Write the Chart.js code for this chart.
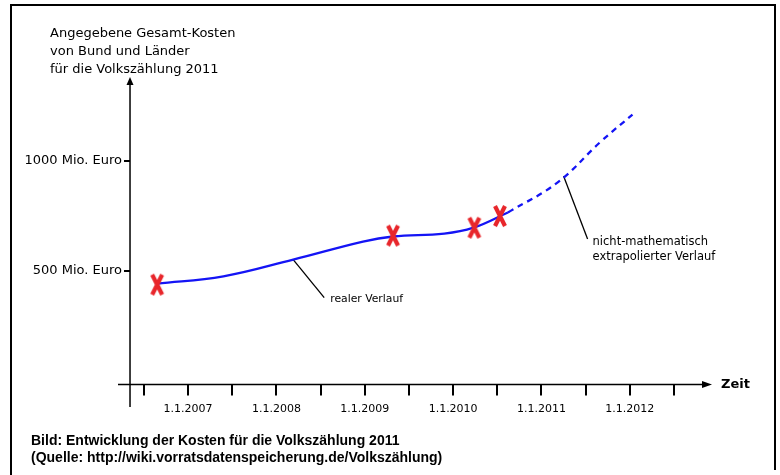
<!DOCTYPE html>
<html>
<head>
<meta charset="utf-8">
<script src="https://cdn.jsdelivr.net/npm/chart.js@4"></script>
<style>
  html, body { margin: 0; padding: 0; background: #fff; }
  canvas { display: block; }
</style>
</head>
<body>
<canvas id="myChart" width="780" height="475"></canvas>
<script>
// gemessene Werte (rote Kreuze)
var pointYears = [2006.65, 2009.32, 2010.24, 2010.53];
var pointCosts = [436, 659, 695, 748];

// realer Verlauf (durchgezogen)
var realYears = [2006.65, 2007.4, 2008.19, 2008.98, 2009.32, 2009.9, 2010.23, 2010.62];
var realCosts = [441, 474, 550, 632, 655, 668, 695, 764];

// extrapolierter Verlauf (gestrichelt)
var extraYears = [2010.62, 2011.18, 2011.67, 2012.03];
var extraCosts = [764, 900, 1086, 1209];

// Achsen
var yTicks = [500, 1000];
var yTickLabels = ["500 Mio. Euro", "1000 Mio. Euro"];
var xTicks = [2006.5, 2007, 2007.5, 2008, 2008.5, 2009, 2009.5, 2010, 2010.5, 2011, 2011.5, 2012, 2012.5];
var xLabelYears = [2007, 2008, 2009, 2010, 2011, 2012];
var xLabels = ["1.1.2007", "1.1.2008", "1.1.2009", "1.1.2010", "1.1.2011", "1.1.2012"];

var titleLines = ["Angegebene Gesamt-Kosten", "von Bund und Länder", "für die Volkszählung 2011"];
var captionLines = ["Bild: Entwicklung der Kosten für die Volkszählung 2011",
  "(Quelle: http://wiki.vorratsdatenspeicherung.de/Volkszählung)"];

function toXY(xs, ys) {
  return xs.map(function (x, i) { return { x: x, y: ys[i] }; });
}

// rotes Kreuz, etwas höher als breit
var cross = document.createElement("canvas");
cross.width = 16;
cross.height = 24;
(function () {
  var c = cross.getContext("2d");
  c.strokeStyle = "#e8262b";
  c.lineWidth = 4.2;
  c.beginPath();
  c.moveTo(3, 2); c.lineTo(13, 22);
  c.moveTo(13, 2); c.lineTo(3, 22);
  c.stroke();
})();

var axisAtYear = 2006.343;
var axisAtCost = -18;

var decor = {
  id: "decor",
  beforeDatasetsDraw: function (chart) {
    var ctx = chart.ctx;
    var xs = chart.scales.x;
    var ys = chart.scales.y;
    var ax = xs.getPixelForValue(axisAtYear);
    var ay = ys.getPixelForValue(axisAtCost);
    ctx.save();
    ctx.strokeStyle = "#000";
    ctx.fillStyle = "#000";

    // Rahmen
    ctx.lineWidth = 2;
    ctx.beginPath();
    ctx.moveTo(11, 475);
    ctx.lineTo(11, 5);
    ctx.lineTo(775, 5);
    ctx.lineTo(775, 470);
    ctx.stroke();

    // y-Achse
    ctx.lineWidth = 1.5;
    ctx.beginPath();
    ctx.moveTo(ax, chart.chartArea.bottom);
    ctx.lineTo(ax, chart.chartArea.top + 6);
    ctx.stroke();
    ctx.beginPath();
    ctx.moveTo(ax, chart.chartArea.top);
    ctx.lineTo(ax - 3.5, chart.chartArea.top + 8);
    ctx.lineTo(ax + 3.5, chart.chartArea.top + 8);
    ctx.closePath();
    ctx.fill();

    // x-Achse
    ctx.beginPath();
    ctx.moveTo(chart.chartArea.left, ay);
    ctx.lineTo(chart.chartArea.right - 8, ay);
    ctx.stroke();
    ctx.beginPath();
    ctx.moveTo(chart.chartArea.right, ay);
    ctx.lineTo(chart.chartArea.right - 10, ay - 3.5);
    ctx.lineTo(chart.chartArea.right - 10, ay + 3.5);
    ctx.closePath();
    ctx.fill();

    // x-Ticks
    ctx.lineWidth = 2;
    xTicks.forEach(function (t) {
      var px = Math.round(xs.getPixelForValue(t));
      ctx.beginPath();
      ctx.moveTo(px, ay);
      ctx.lineTo(px, ay + 11);
      ctx.stroke();
    });
    ctx.font = "11px 'DejaVu Sans'";
    ctx.textAlign = "center";
    ctx.textBaseline = "middle";
    xLabelYears.forEach(function (t, i) {
      ctx.fillText(xLabels[i], xs.getPixelForValue(t), ay + 25);
    });
    ctx.font = "bold 13px 'DejaVu Sans'";
    ctx.textAlign = "left";
    ctx.fillText("Zeit", chart.chartArea.right + 9, ay);

    // y-Ticks
    ctx.font = "13px 'DejaVu Sans'";
    ctx.textAlign = "right";
    yTicks.forEach(function (t, i) {
      var py = Math.round(ys.getPixelForValue(t));
      ctx.beginPath();
      ctx.moveTo(ax - 6, py);
      ctx.lineTo(ax, py);
      ctx.stroke();
      ctx.fillText(yTickLabels[i], ax - 8, py);
    });

    // Titel
    ctx.font = "13px 'DejaVu Sans'";
    ctx.textAlign = "left";
    titleLines.forEach(function (s, i) {
      ctx.fillText(s, 50, 34 + i * 18);
    });

    // Beschriftung Verlauf
    ctx.lineWidth = 1.3;
    var p1 = { x: xs.getPixelForValue(2008.19), y: ys.getPixelForValue(550) };
    ctx.beginPath();
    ctx.moveTo(p1.x, p1.y);
    ctx.lineTo(p1.x + 31, p1.y + 38);
    ctx.stroke();
    ctx.font = "10.8px 'DejaVu Sans'";
    ctx.fillText("realer Verlauf", p1.x + 37, p1.y + 40);

    var p2 = { x: xs.getPixelForValue(2011.25), y: ys.getPixelForValue(930) };
    ctx.beginPath();
    ctx.moveTo(p2.x, p2.y);
    ctx.lineTo(p2.x + 24, p2.y + 63);
    ctx.stroke();
    ctx.font = "11.5px 'DejaVu Sans'";
    ctx.fillText("nicht-mathematisch", p2.x + 29, p2.y + 66);
    ctx.fillText("extrapolierter Verlauf", p2.x + 29, p2.y + 81);

    // Bildunterschrift
    ctx.font = "bold 14px 'Liberation Sans'";
    captionLines.forEach(function (s, i) {
      ctx.fillText(s, 31, 441 + i * 17);
    });
    ctx.restore();
  }
};

new Chart(document.getElementById("myChart"), {
  type: "scatter",
  data: {
    datasets: [
      {
        data: toXY(pointYears, pointCosts),
        showLine: false,
        pointStyle: cross,
        pointRadius: 10,
        order: 0
      },
      {
        data: toXY(realYears, realCosts),
        showLine: true,
        borderColor: "#1414f5",
        borderWidth: 2.3,
        pointRadius: 0,
        tension: 0.4,
        order: 1
      },
      {
        data: toXY(extraYears, extraCosts),
        showLine: true,
        borderColor: "#1414f5",
        borderWidth: 2.3,
        borderDash: [6, 5],
        pointRadius: 0,
        tension: 0.4,
        order: 2
      }
    ]
  },
  options: {
    responsive: false,
    devicePixelRatio: 1,
    animation: false,
    layout: { padding: { left: 118, right: 68, top: 77, bottom: 68 } },
    plugins: { legend: { display: false }, tooltip: { enabled: false } },
    scales: {
      x: { type: "linear", min: 2006.207, max: 2012.93, display: false },
      y: { type: "linear", min: -120, max: 1380, display: false }
    }
  },
  plugins: [decor]
});
</script>
</body>
</html>
